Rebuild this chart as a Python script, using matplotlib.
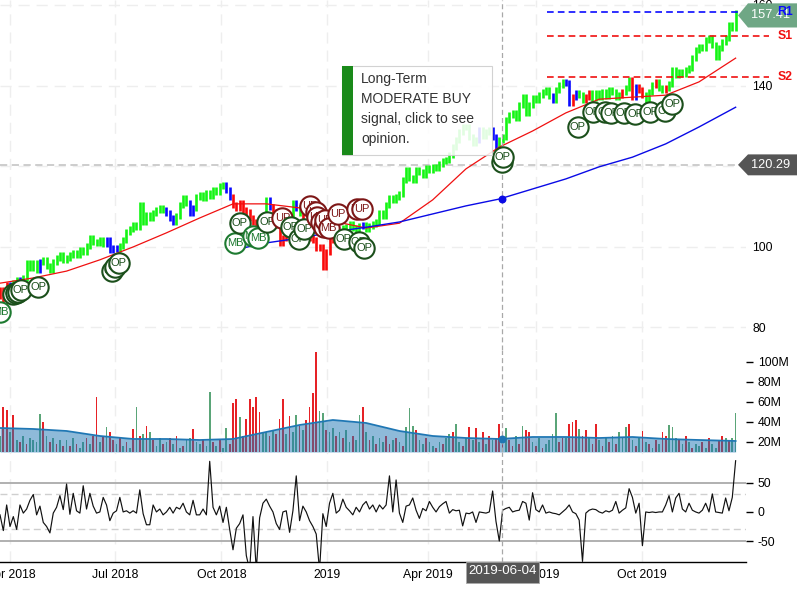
#!/usr/bin/env python3
"""Stock chart with opinion markers, volume and oscillator panels."""

import matplotlib
matplotlib.use("Agg")
import matplotlib.pyplot as plt
from matplotlib.patches import Polygon, Rectangle
from matplotlib.transforms import Affine2D
import numpy as np
import pandas as pd

plt.rcParams["font.family"] = ["Liberation Sans", "DejaVu Sans"]

# daily series, sampled every other session
close = [
    89.2, 86.7, 90.4, 88.7, 90.9, 91.7, 90.9, 92.2, 95.9, 94.7,
    95.9, 94.2, 96.2, 96.7, 95.2, 94.2, 96.2, 97.2, 97.9, 96.7,
    97.2, 97.9, 98.4, 97.9, 99.1, 98.6, 100.1, 102.1, 101.1, 100.9,
    101.6, 100.6, 101.6, 99.1, 99.6, 99.4, 100.1, 101.6, 103.6, 104.3,
    105.3, 104.8, 110.3, 106.1, 107.8, 107.1, 108.3, 109.1, 109.6, 109.1,
    108.3, 107.1, 106.1, 107.6, 110.3, 112.0, 110.8, 108.3, 109.6, 112.3,
    112.8, 112.0, 113.3, 112.6, 114.0, 113.5, 115.0, 115.3, 114.0, 112.3,
    110.3, 109.6, 110.8, 109.1, 108.6, 107.1, 106.1, 105.1, 104.1, 105.1,
    111.6, 109.8, 108.6, 105.3, 100.9, 102.1, 104.1, 105.1, 110.8, 109.6,
    108.3, 105.3, 103.6, 102.1, 101.6, 99.6, 99.9, 94.9, 98.6, 101.6,
    102.4, 103.4, 103.6, 104.6, 104.8, 105.6, 104.6, 104.1, 105.1, 105.3,
    104.3, 105.1, 105.6, 106.1, 108.3, 107.6, 110.3, 112.0, 111.6, 112.3,
    113.0, 116.5, 119.0, 117.0, 116.5, 119.0, 118.5, 117.8, 119.5, 119.0,
    119.8, 119.5, 120.5, 121.2, 121.5, 122.7, 124.7, 126.5, 128.5, 129.7,
    129.7, 127.2, 125.7, 126.5, 128.9, 127.5, 128.5, 128.9, 127.2, 124.7,
    126.5, 127.2, 131.4, 132.7, 133.2, 131.9, 135.2, 137.1, 133.2, 135.2,
    136.9, 136.4, 137.6, 138.4, 138.9, 137.4, 136.4, 138.9, 140.1, 140.9,
    140.6, 135.7, 137.1, 138.1, 137.6, 136.4, 137.1, 138.1, 136.9, 138.1,
    137.1, 138.4, 137.4, 138.9, 138.4, 137.1, 137.6, 138.4, 139.4, 141.4,
    137.1, 139.6, 138.9, 137.6, 136.4, 138.4, 140.1, 140.9, 139.4, 138.9,
    139.4, 140.4, 143.8, 142.6, 143.4, 142.9, 143.8, 144.3, 146.8, 148.8,
    149.6, 149.3, 151.3, 151.8, 150.1, 147.1, 149.3, 150.8, 151.8, 155.0,
    154.3, 158.0,
]
# u = bullish, f = neutral, d = bearish
bar_signal = (
    "dddfuufuuu" "uufuuuuuuu" "uuuuuuuuuu" "uuffffuuuu" "uuuuuuuuuu"
    "fffuuuuffu" "uuuuuuuuff" "dddddddddd" "ufdddddduf" "uddddddddd"
    "dduuuuuuuf" "uuuuuuuuuu" "uuuuuuuuuu" "uuuuuuuuuu" "uuuufuuuff"
    "uuuuuuuuuu" "uuuuuufuuu" "ffdfuudduu" "uuuuuuuduu" "dfdduuuduu"
    "duuuuuuuuu" "uuuuuuuuuu" "uu"
)
ma_short = [
    90.9, 92.2, 93.9, 96.7, 99.9, 103.4, 107.1, 110.6, 110.6, 109.6, 106.3, 104.6,
    105.8, 111.6, 119.3, 124.7, 128.7, 133.2, 136.6, 137.1, 137.6, 140.9, 146.8,
]
ma_long = [
    99.1, 100.9, 102.1, 103.6, 104.8, 106.1, 108.1, 110.1,
    111.8, 114.3, 116.8, 119.8, 122.2, 125.5, 129.7, 134.6,
]
volume = [
    26, 55, 52, 30, 47, 22, 20, 26, 18, 24,
    22, 20, 48, 40, 26, 20, 24, 18, 22, 16,
    22, 16, 24, 18, 14, 20, 24, 18, 26, 65,
    20, 26, 35, 30, 22, 18, 24, 16, 20, 14,
    33, 55, 26, 28, 36, 30, 22, 16, 24, 18,
    20, 24, 18, 26, 14, 16, 22, 24, 33, 20,
    18, 22, 16, 70, 20, 16, 22, 14, 34, 18,
    59, 63, 45, 26, 43, 63, 55, 65, 50, 30,
    30, 26, 32, 28, 43, 63, 28, 46, 30, 47,
    36, 32, 42, 55, 69, 110, 51, 49, 32, 30,
    34, 26, 30, 24, 32, 20, 26, 22, 47, 55,
    30, 22, 26, 18, 24, 20, 26, 18, 22, 24,
    20, 16, 35, 54, 36, 32, 22, 18, 24, 20,
    16, 14, 20, 18, 24, 28, 30, 38, 20, 16,
    24, 35, 22, 34, 20, 30, 18, 26, 22, 24,
    38, 20, 34, 22, 16, 26, 18, 36, 32, 30,
    20, 16, 24, 14, 18, 22, 28, 49, 20, 24,
    24, 38, 40, 42, 33, 26, 32, 24, 18, 38,
    22, 16, 24, 20, 26, 18, 30, 24, 35, 38,
    22, 16, 24, 31, 20, 18, 14, 22, 18, 30,
    26, 37, 35, 24, 22, 18, 26, 20, 14, 18,
    16, 20, 14, 24, 18, 14, 22, 26, 24, 22,
    24, 49,
]
volume_dir = (
    "uddudududu" "uuudududud" "ududuududd" "ududdududu" "dudududuud"
    "udududuudu" "uduududuud" "dduddddddu" "ududdduduu" "dudddduudu"
    "ududuuduud" "ududuuddud" "uduuuduudu" "ududuuduud" "ududududud"
    "dduddududd" "ududuuuudd" "uddduddudd" "udududuuud" "ududududud"
    "duuudududu" "ududuuddud" "uu"
)
volume_avg = [
    34, 33, 31, 26, 23, 23, 22, 23, 30, 37, 42, 39,
    31, 26, 24, 23, 25, 25, 24, 25, 23, 22, 21,
]
oscillator = [
    -5, -32, 12, -25, -8, -30, 12, -2, 5, 20,
    30, -5, 10, -18, -25, -36, -2, 8, 28, 4,
    48, -4, 32, 2, -2, 45, 5, 32, 10, -2,
    0, 25, 12, -15, -2, 2, 25, 0, 2, -2,
    2, -2, 38, -3, -22, -22, 12, 0, 5, -5,
    0, 8, -2, 8, 5, 15, 0, -5, 20, -5,
    -5, 5, -5, 87, 8, -5, 10, -18, 8, -30,
    -65, -28, -20, -5, -75, -100, -8, -100, -10, 15,
    22, 10, 0, -20, -30, 0, 2, -35, 2, 62,
    -15, 10, 0, -15, -25, -38, -100, -3, -25, 15,
    32, -2, 3, 22, 8, 2, -5, 8, 0, 12,
    18, 5, 12, 0, 12, 5, 12, 62, 0, 55,
    -2, -18, 10, 12, 24, 3, -11, 6, 2, 18,
    8, 0, 9, 14, 18, -2, 4, 2, 3, -24,
    -2, -3, 0, -18, 0, -1, -2, 0, 36, -16,
    -50, 3, 6, 8, 0, 2, 3, 18, 15, -14,
    33, 4, 0, 12, -2, 0, -2, -3, -5, 0,
    5, 12, 0, -3, -14, -85, -2, 3, 5, 4,
    0, -2, 2, 0, 3, 18, -2, 3, 7, 40,
    25, -2, 15, -58, 0, -1, 0, -1, 0, 0,
    12, 28, 0, 24, 32, 5, 0, 15, 3, 0,
    -2, 3, 15, 0, 31, 0, -1, -2, 24, 2,
    25, 88,
]

# opinion markers: days from 2019-01-01, price, label
op_days = [-273, -270, -268, -266, -251, -187, -184, -181, -76, -52, -32, -25, -20, 14, 27, 32,
           151, 152, 217, 230, 241, 246, 257, 267, 280, 293, 299]
op_price = [88.2, 88.5, 88.7, 89.2, 89.9, 93.9, 94.9, 95.9, 105.8, 106.1, 104.8, 101.9, 104.3, 101.9, 101.1, 99.6,
            121.0, 122.2, 129.7, 133.4, 133.4, 133.2, 133.2, 132.9, 133.4, 133.7, 135.4]
mb_days = [-284, -80, -65, -60]
mb_price = [83.7, 100.9, 102.6, 102.1]
up_days = [-39, -15, -10, -9, -6, -3, -2, 1, 9, 26, 30]
up_price = [107.1, 110.1, 108.6, 107.3, 106.1, 104.8, 106.6, 104.6, 108.1, 109.3, 109.3]
up_labels = ["UP", "UP", "UP", "UP", "UP", "UP", "UP", "MB", "UP", "UP", "UP"]

levels = {"R1": 158.2, "S1": 152.3, "S2": 142.1}
last_close = 157.41
cross_price = 120.29
cross_date = "2019-06-04"
cross_ma = 111.8
cross_vol_avg = 23

# session axis: calendar months are not evenly spread
tick_dates = ["2018-04-01", "2018-07-01", "2018-10-01", "2019-01-01", "2019-03-29", "2019-07-01", "2019-10-01"]
tick_labels = ["Apr 2018", "Jul 2018", "Oct 2018", "2019", "Apr 2019", "Jul 2019", "Oct 2019"]
tooltip_lines = ["Long-Term", "MODERATE BUY", "signal, click to see", "opinion."]

dates = pd.date_range("2018-03-23", "2019-12-21", periods=len(close))
x_range = (pd.Timestamp("2018-03-23"), pd.Timestamp("2019-12-30"))
base_day = pd.Timestamp("2019-01-01")
bar_colours = {"u": "#14f514", "f": "#0a0aff", "d": "#fa0a0a"}
vol_colours = {"u": "#5aa578", "d": "#e62226"}
ticks = pd.to_datetime(tick_dates)

fig = plt.figure(figsize=(8, 6), dpi=100, facecolor="white")
width = 746 / 800
ax_p = fig.add_axes([0, 1 - 350 / 600, width, 350 / 600])
ax_v = fig.add_axes([0, 1 - 452 / 600, width, 102 / 600])
ax_o = fig.add_axes([0, 1 - 562 / 600, width, 110 / 600])

# layout helper, figure pixels from the top-left
px = Affine2D().scale(1 / 800, -1 / 600).translate(0, 1) + fig.transFigure

for ax in (ax_p, ax_v, ax_o):
    ax.set_xlim(*x_range)
    ax.patch.set_alpha(0)
    for s in ax.spines.values():
        s.set_visible(False)
    ax.set_xticks(ticks)
    ax.set_xticklabels([])
    ax.tick_params(axis="x", length=0)
    ax.grid(axis="x", color="#eeeeee", linewidth=1, linestyle=(0, (8, 5)))
    ax.yaxis.tick_right()
    ax.set_axisbelow(True)

# price panel
ax_p.set_ylim(74.3, 161.24)
ax_p.set_yticks([80, 100, 120, 140, 160])
ax_p.set_yticklabels(["80", "100", "", "140", "160"], fontsize=8.8)
ax_p.tick_params(axis="y", length=0, pad=4.5)
ax_p.grid(axis="y", color="#eeeeee", linewidth=1, linestyle=(0, (8, 5)))

close_arr = np.array(close)
prev = np.r_[close_arr[0] - 1.5, close_arr[:-1]]
lo = np.minimum(prev, close_arr)
hi = np.maximum(prev, close_arr)
ax_p.vlines(dates, lo - 0.8, hi + 0.8, colors=[bar_colours[c] for c in bar_signal], linewidth=1.9, zorder=2)

ma_idx = list(range(0, 220, 10)) + [len(dates) - 1]
ax_p.plot(dates[ma_idx], ma_short, color="#f01010", linewidth=0.9, zorder=3)
ax_p.plot(dates[ma_idx[7:]], ma_long, color="#0a0ae6", linewidth=1.0, zorder=3)

markers = []
for d, p in zip(op_days, op_price):
    markers.append((d, p, "OP", "#1b4f1b"))
for d, p in zip(mb_days, mb_price):
    markers.append((d, p, "MB", "#1d7a30"))
for d, p, lab in zip(up_days, up_price, up_labels):
    markers.append((d, p, lab, "#7d1616"))
markers.sort(key=lambda m: m[0])
for i, (d, p, lab, col) in enumerate(markers):
    when = base_day + pd.Timedelta(days=d)
    z = 4 + i * 0.01
    ax_p.scatter([when], [p], s=215, facecolor="white", edgecolor=col, linewidth=1.5, zorder=z)
    ax_p.text(when, p, lab, color=col, fontsize=8, ha="center", va="center", zorder=z + 0.005)

level_end = pd.Timestamp("2020-01-19")
for name, val in levels.items():
    col = "#0a0aff" if name == "R1" else "#f01010"
    ax_p.plot([pd.Timestamp("2019-07-10"), level_end], [val, val], color=col, linewidth=1.2,
              linestyle=(0, (4, 2.5)), clip_on=False, zorder=5)

# crosshair, drawn on the session axis position of the hovered bar
ax_p.axhline(cross_price, color="#c9c9c9", linewidth=1.3, linestyle=(0, (4, 2.5)), zorder=1.5)
cross_when = pd.Timestamp("2019-06-01")
for ax in (ax_p, ax_v, ax_o):
    ax.axvline(cross_when, color="#a8a8a8", linewidth=0.9, linestyle=(0, (4, 2.5)), zorder=3.5)
ax_p.scatter([cross_when], [cross_ma], s=22, color="#0a0ae6", zorder=3.6)

# price tags on the right
ytr = ax_p.get_yaxis_transform()
for val, col, half in ((last_close, "#6fa785", 3.0), (cross_price, "#555555", 2.6)):
    ax_p.add_patch(Polygon([(738 / 746, val), (748 / 746, val + half), (797 / 746, val + half),
                            (797 / 746, val - half), (748 / 746, val - half)],
                           closed=True, transform=ytr, facecolor=col, edgecolor="none",
                           clip_on=False, zorder=6))
    ax_p.text(771 / 746, val, f"{val:.2f}", transform=ytr, color="white", fontsize=9.2,
              ha="center", va="center", zorder=7, clip_on=False)
for name, val in levels.items():
    col = "#0a0aff" if name == "R1" else "#f01010"
    ax_p.text(785 / 746, val, name, transform=ytr, color=col, fontsize=8.8, fontweight="bold",
              ha="center", va="center", zorder=8, clip_on=False)

# volume panel
ax_v.set_ylim(10, 112)
ax_v.set_yticks([20, 40, 60, 80, 100])
ax_v.set_yticklabels(["20M", "40M", "60M", "80M", "100M"], fontsize=8.8)
ax_v.tick_params(axis="y", length=5, width=1, pad=3.5)
ax_v.bar(dates, volume, width=1.5, color=[vol_colours[c] for c in volume_dir], zorder=2)
ax_v.fill_between(dates[ma_idx], 10, volume_avg, color="#1f77b4", alpha=0.5, linewidth=0, zorder=3)
ax_v.plot(dates[ma_idx], volume_avg, color="#1f77b4", linewidth=1.3, zorder=4)
ax_v.scatter([cross_when], [cross_vol_avg], s=22, color="#1f77b4", zorder=5)

# oscillator panel
ax_o.set_ylim(-86, 103)
ax_o.set_yticks([-50, 0, 50])
ax_o.set_yticklabels(["-50", "0", "50"], fontsize=8.8)
ax_o.tick_params(axis="y", length=5, width=1, pad=3.5)
for lev in (-50, 50):
    ax_o.axhline(lev, color="#b0b0b0", linewidth=1.4, zorder=1.5)
for lev in (-30, 30):
    ax_o.axhline(lev, color="#cfcfcf", linewidth=1, linestyle=(0, (5, 3)), zorder=1.5)
ax_o.plot(dates, oscillator, color="#111111", linewidth=0.85, zorder=3)

ax_o.spines["bottom"].set_visible(True)
ax_o.spines["bottom"].set_color("black")
ax_o.spines["bottom"].set_linewidth(1)
ax_o.set_xticklabels(tick_labels, fontsize=8.8)
ax_o.tick_params(axis="x", length=0, pad=5)

# crosshair date tag
fig.add_artist(Rectangle((466, 562), 73, 21, transform=px, facecolor="#555555", edgecolor="#aaaaaa",
                         linewidth=0.6, zorder=5))
fig.text(502.5, 571, cross_date, transform=px, color="white", fontsize=9.6, ha="center", va="center", zorder=6)

# tooltip
fig.add_artist(Rectangle((342, 66), 150, 89, transform=px, facecolor="white", edgecolor="#cccccc",
                         linewidth=0.8, alpha=0.88, zorder=5))
fig.add_artist(Rectangle((342, 66), 11, 89, transform=px, facecolor="#1a8a1a", edgecolor="none", zorder=6))
for i, line in enumerate(tooltip_lines):
    fig.text(361, 79 + 20 * i, line, transform=px, color="#333333", fontsize=10, ha="left", va="center", zorder=6)

fig.savefig("out.png", dpi=100)
